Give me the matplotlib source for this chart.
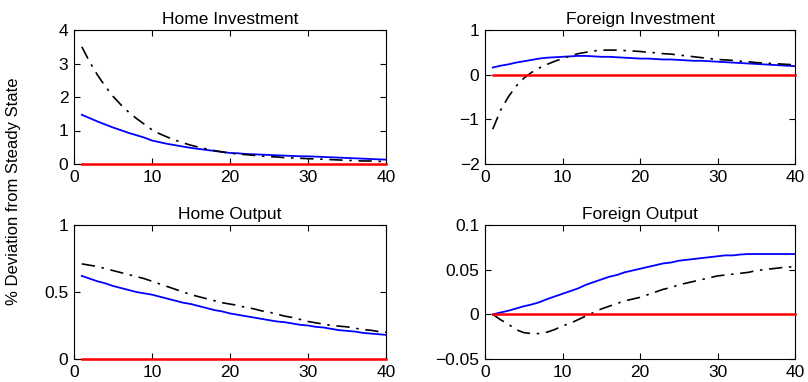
import numpy as np
import matplotlib.pyplot as plt

plt.rcParams['font.family'] = ['Liberation Sans', 'DejaVu Sans']
plt.rcParams['font.size'] = 12

# 时期
periods = np.arange(1, 41)

# Home Investment
hi_blue = [1.47, 1.37, 1.27, 1.18, 1.09, 1.01, 0.93, 0.86, 0.79, 0.70,
           0.65, 0.60, 0.56, 0.52, 0.48, 0.45, 0.42, 0.39, 0.36, 0.33,
           0.32, 0.30, 0.29, 0.28, 0.27, 0.26, 0.25, 0.24, 0.23, 0.23,
           0.22, 0.21, 0.20, 0.19, 0.18, 0.17, 0.16, 0.15, 0.14, 0.13]
hi_black = [3.50, 3.05, 2.66, 2.32, 2.02, 1.77, 1.55, 1.36, 1.19, 1.02,
            0.90, 0.80, 0.71, 0.63, 0.56, 0.50, 0.45, 0.40, 0.36, 0.32,
            0.30, 0.28, 0.26, 0.24, 0.22, 0.21, 0.19, 0.18, 0.17, 0.16,
            0.15, 0.14, 0.13, 0.12, 0.11, 0.10, 0.09, 0.09, 0.08, 0.07]

# Foreign Investment
fi_blue = [0.16, 0.20, 0.23, 0.27, 0.30, 0.33, 0.36, 0.38, 0.39, 0.40,
           0.41, 0.42, 0.42, 0.41, 0.40, 0.40, 0.39, 0.38, 0.37, 0.36,
           0.36, 0.35, 0.34, 0.34, 0.33, 0.32, 0.31, 0.31, 0.30, 0.29,
           0.28, 0.27, 0.26, 0.25, 0.24, 0.23, 0.22, 0.21, 0.20, 0.19]
fi_black = [-1.22, -0.80, -0.50, -0.26, -0.08, 0.05, 0.15, 0.23, 0.30, 0.36,
            0.42, 0.47, 0.50, 0.53, 0.55, 0.55, 0.55, 0.54, 0.53, 0.52,
            0.50, 0.49, 0.47, 0.46, 0.44, 0.42, 0.40, 0.38, 0.36, 0.34,
            0.33, 0.32, 0.30, 0.29, 0.27, 0.26, 0.25, 0.24, 0.23, 0.22]

# Home Output
ho_blue = [0.62, 0.60, 0.58, 0.565, 0.545, 0.53, 0.515, 0.50, 0.49, 0.48,
           0.465, 0.45, 0.435, 0.42, 0.41, 0.395, 0.38, 0.365, 0.355, 0.34,
           0.33, 0.32, 0.31, 0.30, 0.29, 0.28, 0.275, 0.265, 0.255, 0.25,
           0.24, 0.235, 0.225, 0.215, 0.21, 0.205, 0.195, 0.19, 0.185, 0.18]
ho_black = [0.71, 0.70, 0.69, 0.675, 0.66, 0.645, 0.63, 0.615, 0.60, 0.58,
            0.56, 0.54, 0.52, 0.50, 0.48, 0.465, 0.45, 0.435, 0.42, 0.41,
            0.40, 0.385, 0.375, 0.36, 0.35, 0.335, 0.32, 0.31, 0.295, 0.28,
            0.27, 0.26, 0.25, 0.245, 0.24, 0.23, 0.22, 0.215, 0.205, 0.20]

# Foreign Output
fo_blue = [0.0, 0.002, 0.004, 0.0065, 0.009, 0.011, 0.0135, 0.017, 0.020, 0.023,
           0.026, 0.029, 0.033, 0.036, 0.039, 0.042, 0.044, 0.047, 0.049, 0.051,
           0.053, 0.055, 0.057, 0.058, 0.060, 0.061, 0.062, 0.063, 0.064, 0.065,
           0.066, 0.066, 0.067, 0.0675, 0.0675, 0.0675, 0.0675, 0.0675, 0.0675, 0.0675]
fo_black = [0.0, -0.006, -0.011, -0.017, -0.0205, -0.0215, -0.0215, -0.020, -0.017, -0.013,
            -0.010, -0.006, -0.002, 0.002, 0.006, 0.009, 0.012, 0.015, 0.017, 0.019,
            0.022, 0.025, 0.028, 0.030, 0.033, 0.035, 0.037, 0.039, 0.041, 0.043,
            0.044, 0.045, 0.046, 0.047, 0.049, 0.050, 0.051, 0.052, 0.053, 0.053]

panels = [
    ("Home Investment", hi_blue, hi_black, (0, 4), [0, 1, 2, 3, 4], None),
    ("Foreign Investment", fi_blue, fi_black, (-2, 1), [-2, -1, 0, 1], None),
    ("Home Output", ho_blue, ho_black, (0, 1), [0, 0.5, 1], ["0", "0.5", "1"]),
    ("Foreign Output", fo_blue, fo_black, (-0.05, 0.1), [-0.05, 0, 0.05, 0.1],
     ["\u22120.05", "0", "0.05", "0.1"]),
]

W, H = 808, 382
fig = plt.figure(figsize=(W / 100, H / 100), dpi=100)

# 各子图位置（像素）：左、右、上、下
boxes = [(74, 386, 30, 164), (485, 795, 30, 164),
         (74, 386, 225, 359), (485, 795, 225, 359)]

for (title, blue, black, ylim, yticks, ylabels), (l, r, t, b) in zip(panels, boxes):
    ax = fig.add_axes([l / W, 1 - b / H, (r - l) / W, (b - t) / H])
    ax.plot(periods, np.zeros(len(periods)), color='red', lw=1.8,
            clip_on=False, zorder=5)
    ax.plot(periods, blue, color='blue', lw=1.3)
    ax.plot(periods, black, color='black', lw=1.2, linestyle=(0, (8, 4, 1.5, 4)))
    ax.set_xlim(0, 40)
    ax.set_ylim(*ylim)
    ax.set_xticks([0, 10, 20, 30, 40])
    ax.set_yticks(yticks)
    if ylabels is not None:
        ax.set_yticklabels(ylabels)
    ax.tick_params(direction='in', top=True, right=True, length=4, width=0.8,
                   labelsize=12.5, pad=4)
    for s in ax.spines.values():
        s.set_linewidth(0.8)
    ax.set_title(title, fontsize=12.5, pad=4)

fig.text(14 / W, 0.5, "% Deviation from Steady State", rotation=90,
         ha='center', va='center', fontsize=12)

fig.savefig("out.png", dpi=100)
